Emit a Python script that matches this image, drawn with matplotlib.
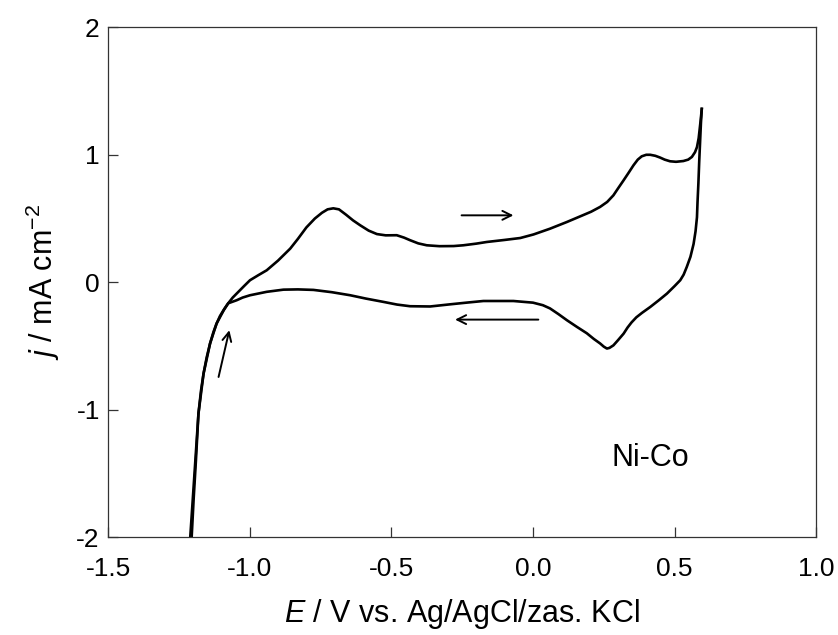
"""
Cyclic voltammogram of the Ni-Co electrode.
"""

import matplotlib.pyplot as plt

# anodic (forward) branch, from the cathodic limit upward
E_fwd = [-1.205, -1.198, -1.19, -1.181, -1.172, -1.163, -1.152, -1.14,
         -1.128, -1.117, -1.105, -1.09, -1.076, -1.06, -1.04, -1.02,
         -0.999, -0.97, -0.94, -0.90, -0.857, -0.83, -0.80, -0.77,
         -0.745, -0.725, -0.705, -0.685, -0.66, -0.635, -0.61, -0.58,
         -0.551, -0.52, -0.481, -0.455, -0.434, -0.405, -0.375, -0.33,
         -0.28, -0.246, -0.20, -0.163, -0.10, -0.045, 0.002, 0.06, 0.12,
         0.17, 0.205, 0.237, 0.262, 0.284, 0.30, 0.32, 0.338, 0.355,
         0.37, 0.384, 0.40, 0.414, 0.432, 0.449, 0.465, 0.484, 0.505,
         0.531, 0.548, 0.561, 0.572, 0.579, 0.585, 0.588, 0.592, 0.596]
j_fwd = [-2.0, -1.7, -1.4, -1.03, -0.85, -0.716, -0.59, -0.48,
         -0.39, -0.324, -0.265, -0.21, -0.165, -0.12, -0.075, -0.03,
         0.016, 0.055, 0.094, 0.17, 0.264, 0.34, 0.43, 0.50,
         0.545, 0.572, 0.58, 0.572, 0.53, 0.485, 0.447, 0.405,
         0.378, 0.368, 0.369, 0.35, 0.33, 0.305, 0.29, 0.283,
         0.284, 0.29, 0.303, 0.316, 0.332, 0.347, 0.375, 0.42, 0.473,
         0.52, 0.553, 0.591, 0.63, 0.682, 0.735, 0.80, 0.86, 0.918,
         0.962, 0.988, 1.0, 1.0, 0.992, 0.978, 0.962, 0.949, 0.945,
         0.951, 0.962, 0.983, 1.02, 1.06, 1.13, 1.19, 1.27, 1.36]

# cathodic (reverse) branch, from the anodic limit back down
E_rev = [0.596, 0.593, 0.590, 0.587, 0.584, 0.581, 0.579, 0.574, 0.567,
         0.556, 0.543, 0.532, 0.52, 0.50, 0.473, 0.445, 0.414, 0.385,
         0.365, 0.348, 0.334, 0.32, 0.30, 0.284, 0.27, 0.261, 0.25, 0.237,
         0.215, 0.19, 0.155, 0.12, 0.09, 0.06, 0.035, 0.0, -0.069,
         -0.175, -0.235, -0.292, -0.363, -0.434, -0.48, -0.528, -0.59,
         -0.645, -0.71, -0.775, -0.83, -0.881, -0.94, -0.999, -1.025,
         -1.046, -1.076, -1.092, -1.117, -1.14, -1.163, -1.181, -1.195,
         -1.21]
j_rev = [1.36, 1.25, 1.10, 0.95, 0.774, 0.63, 0.51, 0.40, 0.30,
         0.20, 0.12, 0.06, 0.016, -0.03, -0.089, -0.14, -0.194, -0.24,
         -0.275, -0.315, -0.355, -0.403, -0.455, -0.495, -0.515, -0.52,
         -0.505, -0.48, -0.445, -0.40, -0.35, -0.298, -0.25, -0.205, -0.18,
         -0.16, -0.147, -0.147, -0.16, -0.173, -0.19, -0.188, -0.175,
         -0.154, -0.128, -0.102, -0.078, -0.06, -0.056, -0.058, -0.075,
         -0.102, -0.12, -0.141, -0.165, -0.22, -0.324, -0.48, -0.716,
         -1.03, -1.5, -2.0]

# scan direction arrows: (start, end)
arrows = [
    ((-0.252, 0.525), (-0.069, 0.525)),
    ((0.019, -0.293), (-0.275, -0.293)),
    ((-1.11, -0.743), (-1.072, -0.376)),
]

plt.rcParams['font.family'] = ['Liberation Sans', 'DejaVu Sans']
plt.rcParams['mathtext.fontset'] = 'custom'
plt.rcParams['mathtext.rm'] = 'Liberation Sans'
plt.rcParams['mathtext.it'] = 'Liberation Sans:italic'

fig = plt.figure(figsize=(8.38, 6.35), dpi=100)
ax = fig.add_axes([0.129, 0.154, 0.845, 0.803])

ax.plot(E_fwd, j_fwd, color='black', lw=1.9)
ax.plot(E_rev, j_rev, color='black', lw=1.9)

for (x0, y0), (x1, y1) in arrows:
    ax.annotate('', xy=(x1, y1), xytext=(x0, y0),
                arrowprops=dict(arrowstyle='->', color='black', lw=1.4,
                                mutation_scale=16, shrinkA=0, shrinkB=0))

ax.text(0.414, -1.38, 'Ni-Co', fontsize=22, ha='center', va='center')

ax.set_xlim(-1.5, 1.0)
ax.set_ylim(-2, 2)
ax.set_xticks([-1.5, -1.0, -0.5, 0.0, 0.5, 1.0])
ax.set_xticklabels(['-1.5', '-1.0', '-0.5', '0.0', '0.5', '1.0'])
ax.set_yticks([-2, -1, 0, 1, 2])
ax.set_yticklabels(['-2', '-1', '0', '1', '2'])
ax.tick_params(direction='in', length=7, width=0.9, labelsize=19,
               color='#333333')
ax.tick_params(axis='x', pad=14)
ax.tick_params(axis='y', pad=6)
for sp in ax.spines.values():
    sp.set_linewidth(0.9)
    sp.set_color('#333333')

ax.set_xlabel(r'$E$ / V vs. Ag/AgCl/zas. KCl', fontsize=22, labelpad=12)
ax.set_ylabel(r'$j$ / mA cm$^{-2}$', fontsize=22, labelpad=10)

fig.savefig('out.png', dpi=100)
